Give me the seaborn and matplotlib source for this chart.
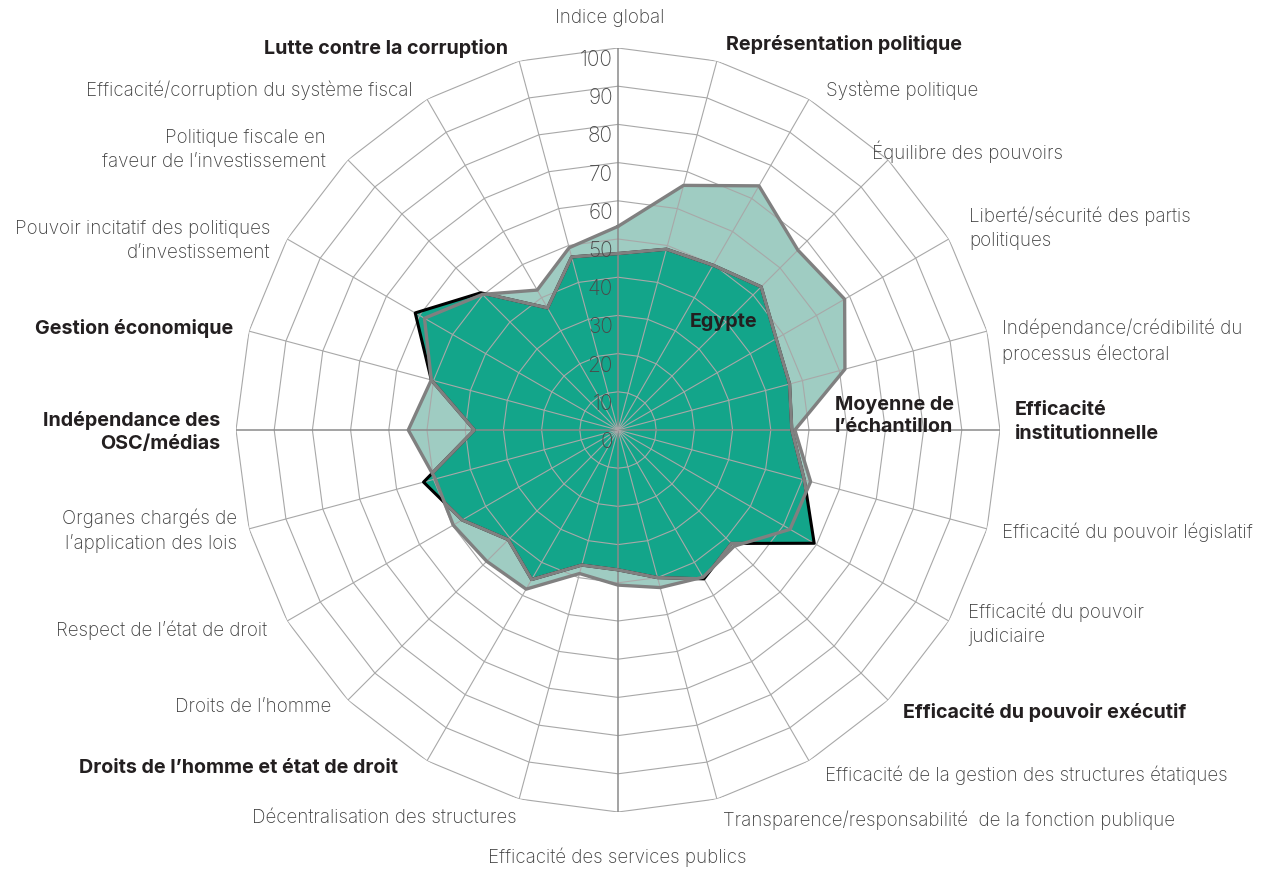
import numpy as np
import matplotlib
matplotlib.use('Agg')
import matplotlib.pyplot as plt
from matplotlib.transforms import offset_copy
import seaborn as sns

# axes du radar, dans le sens horaire depuis le haut
categories = [
    'Indice global', 'Représentation politique', 'Système politique',
    'Équilibre des pouvoirs', 'Liberté/sécurité des partis\npolitiques',
    'Indépendance/crédibilité du\nprocessus électoral', 'Efficacité\ninstitutionnelle',
    'Efficacité du pouvoir législatif', 'Efficacité du pouvoir\njudiciaire',
    'Efficacité du pouvoir exécutif', 'Efficacité de la gestion des structures étatiques',
    'Transparence/responsabilité  de la fonction publique', 'Efficacité des services publics',
    'Décentralisation des structures', 'Droits de l’homme et état de droit',
    'Droits de l’homme', 'Respect de l’état de droit',
    'Organes chargés de\nl’application des lois', 'Indépendance des\nOSC/médias',
    'Gestion économique', 'Pouvoir incitatif des politiques\nd’investissement',
    'Politique fiscale en\nfaveur de l’investissement',
    'Efficacité/corruption du système fiscal', 'Lutte contre la corruption',
]
bold_axes = [1, 6, 9, 14, 18, 19, 23]

egypte = [46.2, 49.0, 49.8, 53.0, 47.8, 46.5, 45.5, 50.5, 59.3, 42.0, 45.0, 40.0,
          36.6, 36.6, 45.2, 40.6, 47.1, 52.7, 37.6, 50.6, 61.3, 50.8, 36.9, 46.9]
moyenne = [53.3, 66.3, 73.8, 66.6, 68.5, 61.5, 46.3, 52.2, 52.0, 43.0, 44.5, 42.7,
           40.6, 38.9, 48.1, 48.6, 49.8, 49.5, 54.9, 50.6, 58.5, 50.2, 42.3, 49.4]
ticks = list(range(0, 101, 10))

# position des étiquettes (pixels de l'image) et alignement
label_pos = [
    (610, 18, 'center'), (726, 45, 'left'), (826, 90, 'left'), (872, 152, 'left'),
    (969, 228, 'left'), (1002, 341, 'left'), (1015, 422, 'left'), (1002, 532, 'left'),
    (968, 624, 'left'), (903, 713, 'left'), (825, 775, 'left'), (723, 820, 'left'),
    (617, 857, 'center'), (517, 818, 'right'), (398, 768, 'right'), (331, 707, 'right'),
    (267, 630, 'right'), (237, 531, 'right'), (220, 432, 'right'), (233, 328, 'right'),
    (270, 241, 'right'), (326, 150, 'right'), (413, 90, 'right'), (508, 48, 'right'),
]

W, H = 1261, 873
CX, CY, R = 618, 430, 382

sns.set_theme(style='white')
plt.rcParams['font.family'] = ['Inter', 'DejaVu Sans']

fig = plt.figure(figsize=(W / 100, H / 100), dpi=100)
ax = fig.add_axes([(CX - R) / W, (H - CY - R) / H, 2 * R / W, 2 * R / H], projection='polar')
ax.set_theta_zero_location('N')
ax.set_theta_direction(-1)
ax.grid(False)
ax.set_xticks([])
ax.set_yticks([])
ax.spines['polar'].set_visible(False)

n = len(categories)
theta = np.linspace(0, 2 * np.pi, n, endpoint=False)
th = np.append(theta, theta[0])
eg = np.append(egypte, egypte[0])
mo = np.append(moyenne, moyenne[0])

light = '#9fccc2'
dark = '#13a58a'
gray = '#808080'

avg_poly = ax.fill(th, mo, color=light, lw=0, zorder=1)[0]
ax.fill(th, eg, color=dark, lw=0, zorder=2)

# grille polygonale
for r in ticks[1:]:
    ax.plot(th, [r] * len(th), color='#a8a8a8', lw=0.8, zorder=3)
for i, t in enumerate(theta):
    main = i % 6 == 0
    ax.plot([t, t], [0, 100], color='#8a8a8a' if main else '#a8a8a8',
            lw=1.1 if main else 0.8, zorder=3)

# Egypte : trait noir, gris là où la moyenne le recouvre
sns.lineplot(x=th, y=eg, sort=False, estimator=None, color='black', lw=2.2,
             ax=ax, zorder=4, legend=False)
inner = ax.plot(th, eg, color=gray, lw=2.4, zorder=5)[0]
inner.set_clip_path(avg_poly)
sns.lineplot(x=th, y=mo, sort=False, estimator=None, color=gray, lw=2.4,
             ax=ax, zorder=6, legend=False)

ax.set_ylim(0, 100)
ax.set_xlabel('')
ax.set_ylabel('')

tick_tr = offset_copy(ax.transData, fig=fig, x=-5, y=-12, units='dots')
for v in ticks:
    ax.text(0, v, str(v), transform=tick_tr, ha='right', va='center',
            fontsize=15, fontweight='light', color='#4a4a4a', zorder=7)

for i, (lab, (x, y, ha)) in enumerate(zip(categories, label_pos)):
    b = i in bold_axes
    fig.text(x / W, 1 - y / H, lab, ha=ha, va='center', multialignment=ha,
             fontsize=14.2 if b else 13.5, linespacing=1.4,
             fontweight='bold' if b else 'light',
             color='#231f20' if b else '#404040')

fig.text(690 / W, 1 - 322 / H, 'Egypte', ha='left', va='center',
         fontsize=14.2, fontweight='bold', color='#231f20')
fig.text(835 / W, 1 - 416 / H, 'Moyenne de\nl’échantillon', ha='left', va='center',
         fontsize=14.2, fontweight='bold', color='#231f20', linespacing=1.35)

fig.savefig('out.png', dpi=100)
